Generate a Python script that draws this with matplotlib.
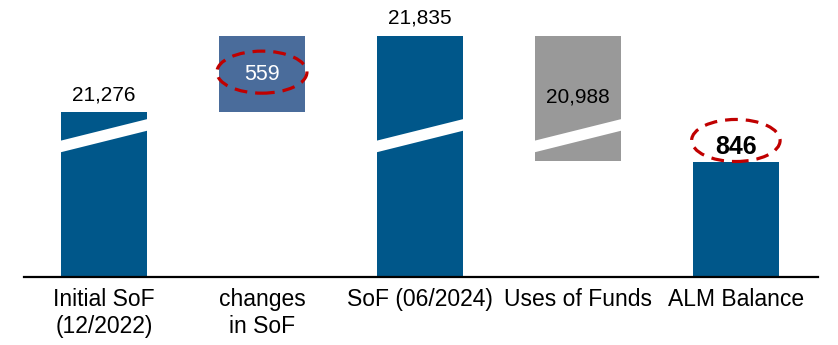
import matplotlib

matplotlib.use("Agg")
import matplotlib.pyplot as plt
from matplotlib.patches import Ellipse, Polygon

plt.rcParams["font.family"] = ["Liberation Sans", "DejaVu Sans"]

# sources and uses of funds, figures as reported
categories = ["Initial SoF\n(12/2022)", "changes\nin SoF", "SoF (06/2024)", "Uses of Funds", "ALM Balance"]
initial_sof = 21276
sof_change = 559
sof_current = 21835
uses_of_funds = 20988
alm_balance = 846

# everything above the break is shifted down by this amount
AXIS_CUT = 20070

DARK_BLUE = "#00578a"
MID_BLUE = "#4a6c9b"
GREY = "#999999"
RED = "#c00000"


def brk(v):
    """Map a value onto the broken y axis."""
    return v - AXIS_CUT if v > 10000 else v


fig = plt.figure(figsize=(8.38, 3.45), dpi=100)
ax = fig.add_axes([24 / 838, 68 / 345, 794 / 838, 277 / 345])

width = 0.545
x = list(range(len(categories)))

# (bottom, top, colour) for every bar after applying the break
bars = [
    (0, brk(initial_sof), DARK_BLUE),
    (brk(initial_sof), brk(initial_sof + sof_change), MID_BLUE),
    (0, brk(sof_current), DARK_BLUE),
    (sof_current - uses_of_funds, brk(sof_current), GREY),
    (0, alm_balance, DARK_BLUE),
]
for xi, (lo, hi, col) in zip(x, bars):
    ax.bar(xi, hi - lo, bottom=lo, width=width, color=col, zorder=2)

# white slanted stripes marking the axis break
stripe_mid, stripe_h, stripe_rise = 1035, 85, 80
for xi in (0, 2, 3):
    l, r = xi - width / 2 - 0.005, xi + width / 2 + 0.005
    ax.add_patch(Polygon(
        [(l, stripe_mid - stripe_h / 2 - stripe_rise), (r, stripe_mid - stripe_h / 2 + stripe_rise),
         (r, stripe_mid + stripe_h / 2 + stripe_rise), (l, stripe_mid + stripe_h / 2 - stripe_rise)],
        closed=True, facecolor="white", edgecolor="none", zorder=3))

# value labels
ax.annotate(f"{initial_sof:,}", (0, brk(initial_sof)), xytext=(0, 6), textcoords="offset points",
            ha="center", va="bottom", fontsize=15)
ax.annotate(f"{sof_current:,}", (2, brk(sof_current)), xytext=(0, 6), textcoords="offset points",
            ha="center", va="bottom", fontsize=15)
mid_change = (brk(initial_sof) + brk(initial_sof + sof_change)) / 2
ax.text(1, mid_change, f"{sof_change:,}", ha="center", va="center", fontsize=15.5, color="white", zorder=4)
ax.text(3, (sof_current - uses_of_funds + brk(sof_current)) / 2 + 10, f"{uses_of_funds:,}",
        ha="center", va="center", fontsize=15, color="black", zorder=4)
ax.annotate(f"{alm_balance:,}", (4, alm_balance), xytext=(0, 1.5), textcoords="offset points",
            ha="center", va="bottom", fontsize=18, fontweight="bold", zorder=4)

# dashed highlight rings
dash = (0, (4, 2.5))
ax.add_patch(Ellipse((1, mid_change + 15), 0.57, 308, fill=False, edgecolor=RED,
                     linewidth=2.3, linestyle=dash, zorder=5))
ax.add_patch(Ellipse((4, 1000), 0.56, 308, fill=False, edgecolor=RED,
                     linewidth=2.3, linestyle=dash, zorder=5))

ax.set_xlim(-0.506, 4.52)
ax.set_ylim(0, 2029)
ax.set_xticks(x)
ax.set_xticklabels(categories, fontsize=16.5)
ax.tick_params(axis="x", length=0, pad=8)
ax.set_yticks([])
for side in ("top", "left", "right"):
    ax.spines[side].set_visible(False)
ax.spines["bottom"].set_linewidth(1.6)
ax.spines["bottom"].set_zorder(6)

fig.savefig("out.png", dpi=100)
